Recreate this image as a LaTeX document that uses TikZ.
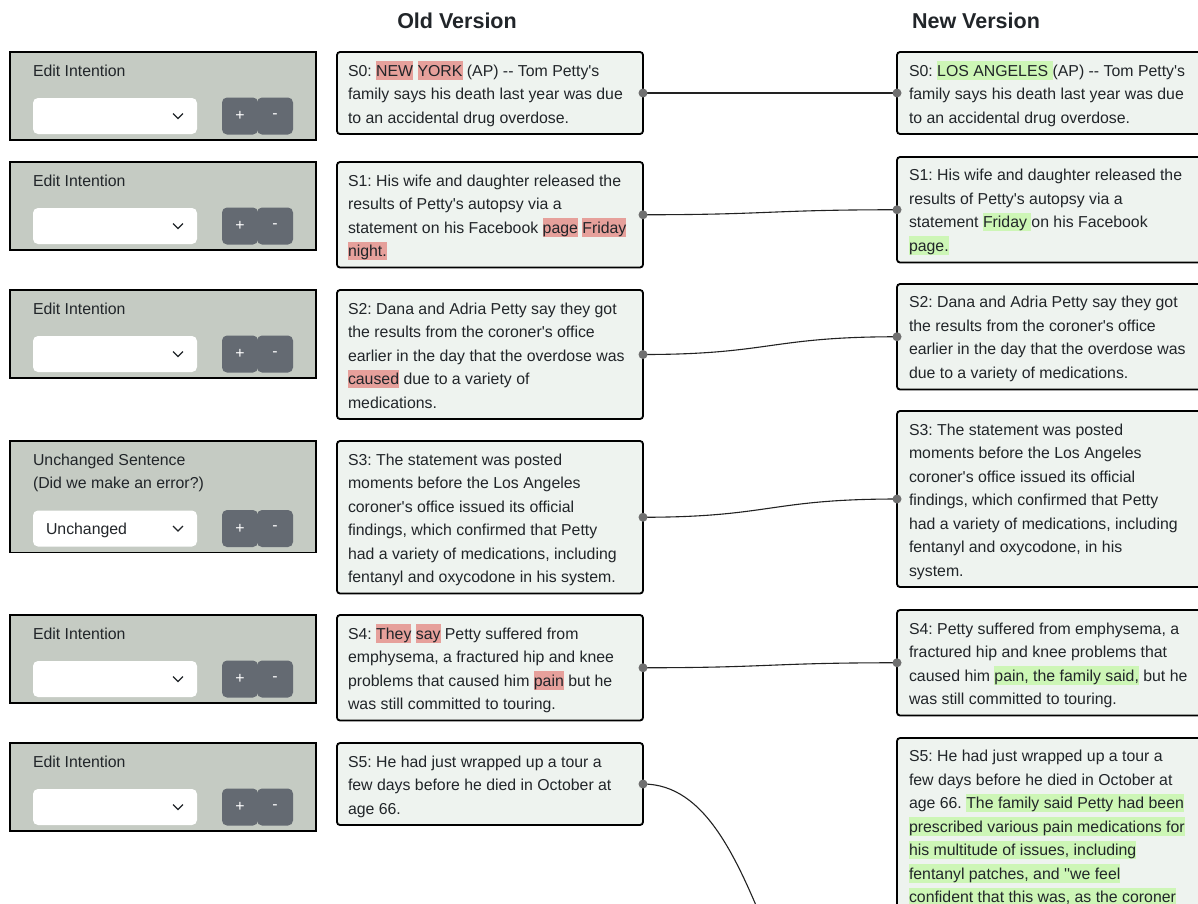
\documentclass[tikz,border=0pt]{standalone}
\usepackage{fontspec}
\newfontfamily\ui{Liberation Sans}
\definecolor{txtc}{HTML}{212529}
\definecolor{panelc}{HTML}{C5CBC3}
\definecolor{boxc}{HTML}{EEF3EF}
\definecolor{btnc}{HTML}{646A72}
\definecolor{hlred}{HTML}{E6A09B}
\definecolor{hlgreen}{HTML}{CDF6B6}
\definecolor{dotc}{HTML}{707070}
\definecolor{linkc}{HTML}{222222}
\newcommand{\hlr}[1]{{\setlength{\fboxsep}{0pt}\colorbox{hlred}{\rule[-3.5pt]{0pt}{18.5pt}#1}}}
\newcommand{\hlg}[1]{{\setlength{\fboxsep}{0pt}\colorbox{hlgreen}{\rule[-3.5pt]{0pt}{18.5pt}#1}}}
\newcommand{\sent}[1]{\begin{minipage}[t]{400pt}\ui\fontsize{15.85}{23.5}\selectfont\frenchspacing\raggedright #1\end{minipage}}
\begin{document}
\begin{tikzpicture}[x=1pt,y=-1pt,
  panel/.style={draw=black, line width=1.8pt, fill=panelc, anchor=north west, minimum width=306pt, inner sep=0pt, outer sep=0pt},
  dd/.style={fill=white, rounded corners=5pt, anchor=north west, minimum width=164pt, minimum height=36pt, inner sep=0pt, outer sep=0pt},
  chev/.style={draw=txtc, line width=1.2pt},
  btn/.style={fill=btnc, rounded corners=5pt, minimum width=36pt, minimum height=37pt, text=white, font=\ui\fontsize{15.85}{18}\selectfont, inner sep=0pt},
  sbox/.style={draw=black, line width=1.8pt, fill=boxc, rounded corners=3pt, anchor=north west, minimum width=306pt, inner sep=0pt, outer sep=0pt},
  nbox/.style={sbox, minimum width=330pt},
  txt/.style={anchor=base west, inner sep=0pt, outer sep=0pt, text=txtc},
  ttl/.style={anchor=base, inner sep=0pt, font=\ui\bfseries\fontsize{21.5}{24}\selectfont, text=txtc},
  link/.style={draw=linkc, line width=1.1pt},
  dot/.style={fill=dotc}
]
\useasboundingbox (0,0) rectangle (1198,903);
\fill[white] (0,0) rectangle (1198,903);
\clip (0,0) rectangle (1198,903);

% titles
\node[ttl] (oldt) at (457,28) {Old Version};
\node[ttl] (newt) at (976,28) {New Version};

% left panels
\node[panel, minimum height=88pt] (p0) at (10,52) {};
\node[txt] (p0t) at (33,76) {\sent{Edit Intention}};
\node[dd] (d0) at (33,98) {};
\draw[chev] (d0.east) ++(-24,-2.5) -- ++(5,5) -- ++(5,-5);
\node[btn] (a0) at (240,116) {+};
\node[btn] (m0) at (275,116) {-};

\node[panel, minimum height=88pt] (p1) at (10,162) {};
\node[txt] (p1t) at (33,186) {\sent{Edit Intention}};
\node[dd] (d1) at (33,208) {};
\draw[chev] (d1.east) ++(-24,-2.5) -- ++(5,5) -- ++(5,-5);
\node[btn] (a1) at (240,226) {+};
\node[btn] (m1) at (275,226) {-};

\node[panel, minimum height=88pt] (p2) at (10,290) {};
\node[txt] (p2t) at (33,314) {\sent{Edit Intention}};
\node[dd] (d2) at (33,336) {};
\draw[chev] (d2.east) ++(-24,-2.5) -- ++(5,5) -- ++(5,-5);
\node[btn] (a2) at (240,354) {+};
\node[btn] (m2) at (275,354) {-};

\node[panel, minimum height=111.5pt] (p3) at (10,441) {};
\node[txt] (p3t) at (33,465) {\sent{Unchanged Sentence\\(Did we make an error?)}};
\node[dd] (d3) at (33,510.5) {};
\node[txt] (d3t) at (46,534) {\sent{Unchanged}};
\draw[chev] (d3.east) ++(-24,-2.5) -- ++(5,5) -- ++(5,-5);
\node[btn] (a3) at (240,528.5) {+};
\node[btn] (m3) at (275,528.5) {-};

\node[panel, minimum height=88pt] (p4) at (10,615) {};
\node[txt] (p4t) at (33,639) {\sent{Edit Intention}};
\node[dd] (d4) at (33,661) {};
\draw[chev] (d4.east) ++(-24,-2.5) -- ++(5,5) -- ++(5,-5);
\node[btn] (a4) at (240,679) {+};
\node[btn] (m4) at (275,679) {-};

\node[panel, minimum height=88pt] (p5) at (10,743) {};
\node[txt] (p5t) at (33,767) {\sent{Edit Intention}};
\node[dd] (d5) at (33,789) {};
\draw[chev] (d5.east) ++(-24,-2.5) -- ++(5,5) -- ++(5,-5);
\node[btn] (a5) at (240,807) {+};
\node[btn] (m5) at (275,807) {-};

% old version boxes
\node[sbox, minimum height=82pt] (o0) at (337,52) {};
\node[txt] (o0t) at (348,76) {\sent{S0: \hlr{NEW} \hlr{YORK} (AP) -- Tom Petty's\\family says his death last year was due\\to an accidental drug overdose.}};
\node[sbox, minimum height=105.5pt] (o1) at (337,162) {};
\node[txt] (o1t) at (348,186) {\sent{S1: His wife and daughter released the\\results of Petty's autopsy via a\\statement on his Facebook \hlr{page} \hlr{Friday}\\\hlr{night.}}};
\node[sbox, minimum height=129pt] (o2) at (337,290) {};
\node[txt] (o2t) at (348,314) {\sent{S2: Dana and Adria Petty say they got\\the results from the coroner's office\\earlier in the day that the overdose was\\\hlr{caused} due to a variety of\\medications.}};
\node[sbox, minimum height=152.5pt] (o3) at (337,441) {};
\node[txt] (o3t) at (348,465) {\sent{S3: The statement was posted\\moments before the Los Angeles\\coroner's office issued its official\\findings, which confirmed that Petty\\had a variety of medications, including\\fentanyl and oxycodone in his system.}};
\node[sbox, minimum height=105.5pt] (o4) at (337,615) {};
\node[txt] (o4t) at (348,639) {\sent{S4: \hlr{They} \hlr{say} Petty suffered from\\emphysema, a fractured hip and knee\\problems that caused him \hlr{pain} but he\\was still committed to touring.}};
\node[sbox, minimum height=82pt] (o5) at (337,743) {};
\node[txt] (o5t) at (348,767) {\sent{S5: He had just wrapped up a tour a\\few days before he died in October at\\age 66.}};

% new version boxes
\node[nbox, minimum height=82pt] (n0) at (897,52) {};
\node[txt] (n0t) at (909,76) {\sent{S0: \hlg{LOS ANGELES\ }(AP) -- Tom Petty's\\family says his death last year was due\\to an accidental drug overdose.}};
\node[nbox, minimum height=105.5pt] (n1) at (897,157) {};
\node[txt] (n1t) at (909,180.5) {\sent{S1: His wife and daughter released the\\results of Petty's autopsy via a\\statement \hlg{Friday\ }on his Facebook\\\hlg{page.}}};
\node[nbox, minimum height=105.5pt] (n2) at (897,284) {};
\node[txt] (n2t) at (909,307.5) {\sent{S2: Dana and Adria Petty say they got\\the results from the coroner's office\\earlier in the day that the overdose was\\due to a variety of medications.}};
\node[nbox, minimum height=176pt] (n3) at (897,411) {};
\node[txt] (n3t) at (909,435) {\sent{S3: The statement was posted\\moments before the Los Angeles\\coroner's office issued its official\\findings, which confirmed that Petty\\had a variety of medications, including\\fentanyl and oxycodone, in his\\system.}};
\node[nbox, minimum height=105.5pt] (n4) at (897,610) {};
\node[txt] (n4t) at (909,634) {\sent{S4: Petty suffered from emphysema, a\\fractured hip and knee problems that\\caused him \hlg{pain, the family said,} but he\\was still committed to touring.}};
\node[nbox, minimum height=260pt] (n5) at (897,738) {};
\node[txt] (n5t) at (909,761.5) {\sent{S5: He had just wrapped up a tour a\\few days before he died in October at\\age 66. \hlg{The family said Petty had been}\\\hlg{prescribed various pain medications for}\\\hlg{his multitude of issues, including}\\\hlg{fentanyl patches, and ''we feel}\\\hlg{confident that this was, as the coroner}}};
\coordinate (n6) at (897,1094);

% connectors
\foreach \i in {0,...,4} {
  \draw[link] (o\i.east) .. controls +(127,0) and +(-127,0) .. (n\i.west);
}
\draw[link] (o5.east) .. controls +(127,0) and +(-127,0) .. (n6);
\foreach \i in {0,...,5} { \fill[dot] (o\i.east) circle (4.5); }
\foreach \i in {0,...,4} { \fill[dot] (n\i.west) circle (4.5); }
\end{tikzpicture}
\end{document}
